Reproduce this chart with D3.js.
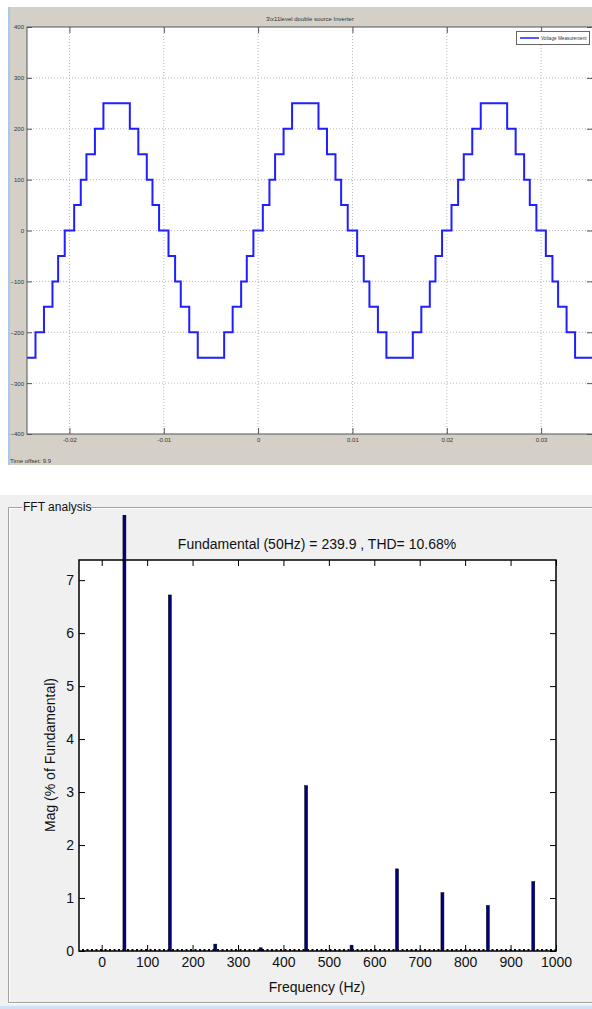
<!DOCTYPE html>
<html>
<head>
<meta charset="utf-8">
<script src="https://cdn.jsdelivr.net/npm/d3@7"></script>
<style>
  body { margin: 0; background: #fff; }
  svg { display: block; }
  .scope text { font-family: "Liberation Sans Narrow", "Liberation Sans", sans-serif; font-size: 6px; fill: #333; }
  .fft text { font-family: "Liberation Sans", Arial, sans-serif; font-size: 14px; fill: #111; }
</style>
</head>
<body>
<div id="chart"></div>
<script>
// scope data: staircase output of the 11 level inverter
var stepTimes = [-0.0245, -0.0236, -0.0227, -0.0218, -0.0212, -0.0205, -0.0195, -0.0188, -0.0182, -0.0173, -0.0164,
  -0.0136, -0.0127, -0.0118, -0.0112, -0.0105, -0.0095, -0.0088, -0.0082, -0.0073, -0.0064,
  -0.0036, -0.0027, -0.0018, -0.0012, -0.0005, 0.0005, 0.0012, 0.0018, 0.0027, 0.0036,
  0.0064, 0.0073, 0.0082, 0.0088, 0.0095, 0.0105, 0.0112, 0.0118, 0.0127, 0.0136,
  0.0164, 0.0173, 0.0182, 0.0188, 0.0195, 0.0205, 0.0212, 0.0218, 0.0227, 0.0236,
  0.0264, 0.0273, 0.0282, 0.0288, 0.0295, 0.0305, 0.0312, 0.0318, 0.0327, 0.0336, 0.0360]
var stepLevels = [-250, -200, -150, -100, -50, 0, 50, 100, 150, 200, 250,
  200, 150, 100, 50, 0, -50, -100, -150, -200, -250,
  -200, -150, -100, -50, 0, 50, 100, 150, 200, 250,
  200, 150, 100, 50, 0, -50, -100, -150, -200, -250,
  -200, -150, -100, -50, 0, 50, 100, 150, 200, 250,
  200, 150, 100, 50, 0, -50, -100, -150, -200, -250, -250]
var timeTicks = [-0.02, -0.01, 0, 0.01, 0.02, 0.03]
var timeTickLabels = ["-0.02", "-0.01", "0", "0.01", "0.02", "0.03"]
var voltTicks = [400, 300, 200, 100, 0, -100, -200, -300, -400]

// fft data
var harmonicFreqs = [50, 150, 250, 350, 450, 550, 650, 750, 850, 950]
var harmonicMags = [100, 6.72, 0.13, 0.06, 3.12, 0.11, 1.55, 1.10, 0.86, 1.31]
var freqTicks = [0, 100, 200, 300, 400, 500, 600, 700, 800, 900, 1000]
var magTicks = [0, 1, 2, 3, 4, 5, 6, 7]

var svg = d3.select("#chart").append("svg")
  .attr("width", 592)
  .attr("height", 1009)

//SCOPE

var scope = svg.append("g").attr("class", "scope")

scope.append("rect")
  .attr("x", 8).attr("y", 7).attr("width", 584).attr("height", 458)
  .attr("fill", "#d4d0c8")
scope.append("rect")
  .attr("x", 8).attr("y", 7).attr("width", 2).attr("height", 458)
  .attr("fill", "#a9c9ea")

var x = d3.scaleLinear().domain([-0.0245, 0.0355]).range([27, 593])
var y = d3.scaleLinear().domain([-400, 400]).range([434, 27])

scope.append("rect")
  .attr("x", 27).attr("y", 27).attr("width", 566).attr("height", 407)
  .attr("fill", "#fff")

scope.append("defs").append("clipPath").attr("id", "scopeclip")
  .append("rect").attr("x", 27).attr("y", 27).attr("width", 566).attr("height", 407)

// grid
scope.selectAll(".vgrid")
  .data(timeTicks)
  .enter()
  .append("line")
    .attr("x1", function(d) { return x(d) }).attr("x2", function(d) { return x(d) })
    .attr("y1", 27).attr("y2", 434)
    .attr("stroke", "#b8b8b8").attr("stroke-dasharray", "1,2")
scope.selectAll(".hgrid")
  .data(voltTicks.slice(1, -1))
  .enter()
  .append("line")
    .attr("x1", 27).attr("x2", 593)
    .attr("y1", function(d) { return y(d) }).attr("y2", function(d) { return y(d) })
    .attr("stroke", "#b8b8b8").attr("stroke-dasharray", "1,2")

var points = stepTimes.map(function(t, i) { return [t, stepLevels[i]] })

var wave = d3.line()
  .x(function(d) { return x(d[0]) })
  .y(function(d) { return y(d[1]) })
  .curve(d3.curveStepAfter)

scope.append("path")
  .attr("d", wave(points))
  .attr("clip-path", "url(#scopeclip)")
  .attr("fill", "none")
  .attr("stroke", "#1f1fff")
  .attr("stroke-width", 2)

scope.append("rect")
  .attr("x", 27).attr("y", 27).attr("width", 566).attr("height", 407)
  .attr("fill", "none").attr("stroke", "#555").attr("stroke-width", 1)

scope.append("g")
  .attr("transform", "translate(0,434)")
  .call(d3.axisBottom(x).tickValues(timeTicks).tickSize(-6).tickPadding(4)
    .tickFormat(function(d, i) { return timeTickLabels[i] }))
scope.append("g")
  .attr("transform", "translate(0,27)")
  .call(d3.axisTop(x).tickValues(timeTicks).tickSize(-6).tickFormat(""))
scope.append("g")
  .attr("transform", "translate(27,0)")
  .call(d3.axisLeft(y).tickValues(voltTicks).tickSize(-5).tickPadding(3))
scope.append("g")
  .attr("transform", "translate(592,0)")
  .call(d3.axisRight(y).tickValues(voltTicks).tickSize(-5).tickFormat(""))
scope.selectAll(".domain").remove()
scope.selectAll(".tick line").attr("stroke", "#555")
scope.selectAll(".tick text").attr("fill", "#333").style("font-size", "6px")

scope.append("text")
  .attr("x", 310).attr("y", 21)
  .attr("text-anchor", "middle")
  .text("3\\x11level double source Inverter")

scope.append("text")
  .attr("x", 10).attr("y", 463)
  .text("Time offset:  9.9")

// legend
var legend = scope.append("g")
legend.append("rect")
  .attr("x", 516.5).attr("y", 31.5).attr("width", 73).attr("height", 13)
  .attr("fill", "#fff").attr("stroke", "#666")
legend.append("line")
  .attr("x1", 520).attr("x2", 539).attr("y1", 38).attr("y2", 38)
  .attr("stroke", "#1f1fff").attr("stroke-width", 1.5)
legend.append("text")
  .attr("x", 541).attr("y", 40)
  .style("font-size", "4.7px")
  .text("Voltage Measurement")

//FFT

var fft = svg.append("g").attr("class", "fft")

fft.append("rect")
  .attr("x", 0).attr("y", 495).attr("width", 592).attr("height", 514)
  .attr("fill", "#f0f0f0")
fft.append("rect")
  .attr("x", 0).attr("y", 1006).attr("width", 592).attr("height", 3)
  .attr("fill", "#cfe1f3")

fft.append("path")
  .attr("d", "M22,507.5 H8.5 V1002.5 H592 M90,507.5 H592")
  .attr("fill", "none").attr("stroke", "#a0a0a0")
fft.append("path")
  .attr("d", "M22,508.5 H9.5 V1001.5 M90,508.5 H592 M8,1003.5 H592")
  .attr("fill", "none").attr("stroke", "#fff")

fft.append("text")
  .attr("x", 23).attr("y", 511)
  .style("font-size", "12px")
  .attr("fill", "#1f1fc8")
  .text("FFT analysis")

var fx = d3.scaleLinear().domain([-50, 1000]).range([79, 556])
var fy = d3.scaleLinear().domain([0, 7.38]).range([951, 560])

fft.append("rect")
  .attr("x", 79).attr("y", 560).attr("width", 477).attr("height", 391)
  .attr("fill", "#fff")

fft.append("defs").append("clipPath").attr("id", "fftclip")
  .append("rect").attr("x", 79).attr("y", 515).attr("width", 477).attr("height", 436)

fft.append("text")
  .attr("x", 317).attr("y", 549)
  .attr("text-anchor", "middle")
  .text("Fundamental (50Hz) = 239.9 , THD= 10.68%")

// bin floor
fft.append("line")
  .attr("x1", fx(-50) + 3).attr("x2", fx(1000))
  .attr("y1", fy(0) - 1).attr("y2", fy(0) - 1)
  .attr("stroke", "#000").attr("stroke-width", 2)
  .attr("stroke-dasharray", "2,2.5")

fft.append("g")
  .attr("clip-path", "url(#fftclip)")
  .selectAll("rect")
  .data(harmonicFreqs)
  .enter()
  .append("rect")
    .attr("x", function(d) { return fx(d) - 1.5 })
    .attr("width", 3)
    .attr("y", function(d, i) { return fy(harmonicMags[i]) })
    .attr("height", function(d, i) { return fy(0) - fy(harmonicMags[i]) })
    .attr("fill", "#000080")
    .attr("stroke", "#000")
    .attr("stroke-width", 0.5)

fft.append("g")
  .attr("transform", "translate(0,951)")
  .call(d3.axisBottom(fx).tickValues(freqTicks).tickSize(-6).tickPadding(6).tickFormat(d3.format("d")))
fft.append("g")
  .attr("transform", "translate(0,560)")
  .call(d3.axisTop(fx).tickValues(freqTicks).tickSize(-6).tickFormat(""))
fft.append("g")
  .attr("transform", "translate(79,0)")
  .call(d3.axisLeft(fy).tickValues(magTicks).tickSize(-6).tickPadding(5))
fft.append("g")
  .attr("transform", "translate(556,0)")
  .call(d3.axisRight(fy).tickValues(magTicks).tickSize(-6).tickFormat(""))
fft.selectAll(".domain").remove()
fft.selectAll(".tick line").attr("stroke", "#000")
fft.selectAll(".tick text").attr("fill", "#111").style("font-size", "14px")
  .style("font-family", "'Liberation Sans', Arial, sans-serif")

fft.append("rect")
  .attr("x", 79).attr("y", 560).attr("width", 477).attr("height", 391)
  .attr("fill", "none").attr("stroke", "#000").attr("stroke-width", 1.5)

fft.append("text")
  .attr("x", 317).attr("y", 992)
  .attr("text-anchor", "middle")
  .text("Frequency (Hz)")

fft.append("text")
  .attr("transform", "translate(55,755) rotate(-90)")
  .attr("text-anchor", "middle")
  .text("Mag (% of Fundamental)")
</script>
</body>
</html>
